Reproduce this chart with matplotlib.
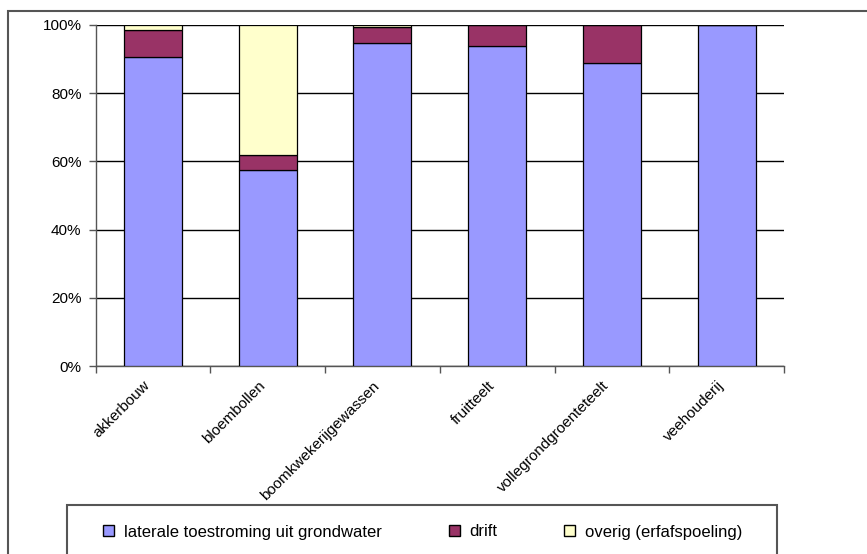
import matplotlib.pyplot as plt
from matplotlib.patches import Rectangle, Patch
from matplotlib.ticker import FixedLocator, PercentFormatter

plt.rcParams['font.family'] = ['Liberation Sans', 'DejaVu Sans']

sectoren = ["akkerbouw", "bloembollen", "boomkwekerijgewassen", "fruitteelt",
            "vollegrondgroenteteelt", "veehouderij"]
laterale = [90.7, 57.4, 94.6, 93.9, 88.8, 100.0]
drift = [7.8, 4.4, 4.8, 6.1, 11.2, 0.0]
overig = [1.5, 38.2, 0.6, 0.0, 0.0, 0.0]

kleur_lat = "#9999FF"
kleur_drift = "#993366"
kleur_overig = "#FFFFCC"

W, H = 867, 554
fig = plt.figure(figsize=(W / 100, H / 100), dpi=100)
ax = fig.add_axes([95.5 / W, 1 - 366 / H, (784 - 95.5) / W, (366 - 25) / H])

x = list(range(len(sectoren)))
onder2 = laterale
onder3 = [a + b for a, b in zip(laterale, drift)]
bw = 0.506
ax.bar(x, laterale, bw, color=kleur_lat, edgecolor="k", linewidth=0.9, zorder=3)
ax.bar(x, drift, bw, bottom=onder2, color=kleur_drift, edgecolor="k", linewidth=0.9, zorder=3)
ax.bar(x, overig, bw, bottom=onder3, color=kleur_overig, edgecolor="k", linewidth=0.9, zorder=3)

ax.set_xlim(-0.5, len(sectoren) - 0.5)
ax.set_ylim(0, 100)
ax.set_yticks([0, 20, 40, 60, 80, 100])
ax.yaxis.set_major_formatter(PercentFormatter(decimals=0))
ax.yaxis.grid(True, color="k", linewidth=1.0, zorder=0)

# categorie-labels zonder streepjes, streepjes op de grenzen
ax.set_xticks(x)
ax.set_xticklabels(sectoren, rotation=45, ha="right", fontsize=11)
ax.tick_params(axis="x", which="major", length=0, pad=9)
ax.xaxis.set_minor_locator(FixedLocator([i - 0.5 for i in range(len(sectoren) + 1)]))
ax.tick_params(axis="x", which="minor", length=5, width=1, color="#555555", direction="out")
ax.tick_params(axis="y", length=5, width=1, color="#555555", labelsize=11, pad=5)

for s in ["top", "right"]:
    ax.spines[s].set_visible(False)
for s in ["left", "bottom"]:
    ax.spines[s].set_color("#555555")
    ax.spines[s].set_linewidth(1.0)

# legenda
handles = [Patch(facecolor=kleur_lat, edgecolor="k", linewidth=1.0),
           Patch(facecolor=kleur_drift, edgecolor="k", linewidth=1.0),
           Patch(facecolor=kleur_overig, edgecolor="k", linewidth=1.0)]
labels = ["laterale toestroming uit grondwater", "drift", "overig (erfafspoeling)"]
fig.legend(handles, labels, loc="center left", bbox_to_anchor=(103 / W, 1 - 532 / H),
           ncol=3, frameon=False, fontsize=12, borderpad=0, borderaxespad=0,
           handlelength=0.66, handleheight=0.62, handletextpad=0.6, columnspacing=4.0)

fig.patches.append(Rectangle((67 / W, -0.1), (777 - 67) / W, 0.1 + 1 - 505 / H,
                             transform=fig.transFigure, fill=False,
                             edgecolor="#555555", linewidth=1.5))
fig.patches.append(Rectangle((8 / W, -0.1), 1.2, 0.1 + 1 - 11 / H,
                             transform=fig.transFigure, fill=False,
                             edgecolor="#555555", linewidth=1.5))

fig.savefig("out.png", dpi=100)
